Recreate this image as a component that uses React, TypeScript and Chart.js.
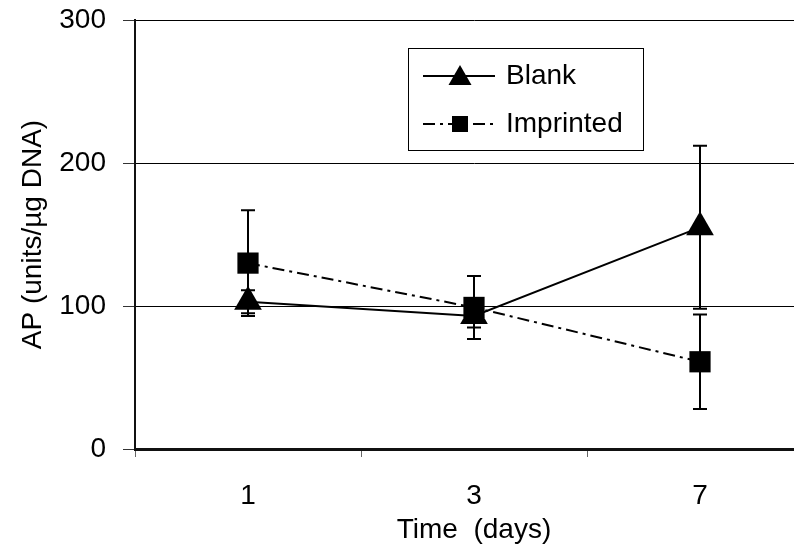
import React, { useEffect, useRef } from "react";
import { Chart, registerables } from "chart.js";

Chart.register(...registerables);

const categories = ["1", "3", "7"];
const blankValues = [103, 93, 155];
const blankErrors = [8, 8, 57];
const imprintedValues = [130, 99, 61];
const imprintedErrors = [37, 22, 33];
const yMin = 0;
const yMax = 300;
const yStep = 100;
const xTitle = "Time  (days)";
const yTitle = "AP (units/µg DNA)";

const FONT = "'Liberation Sans', Arial, sans-serif";

const errorBarPlugin = {
  id: "errorBars",
  afterDatasetsDraw(chart: any) {
    const { ctx } = chart;
    const yScale = chart.scales.y;
    chart.data.datasets.forEach((ds: any, i: number) => {
      const meta = chart.getDatasetMeta(i);
      const errs: number[] = ds.errors || [];
      meta.data.forEach((pt: any, j: number) => {
        const v = ds.data[j];
        const e = errs[j];
        if (e == null) return;
        const x = pt.x;
        const yt = yScale.getPixelForValue(v + e);
        const yb = yScale.getPixelForValue(v - e);
        ctx.save();
        ctx.strokeStyle = "#000";
        ctx.lineWidth = 2;
        ctx.setLineDash([]);
        ctx.beginPath();
        ctx.moveTo(x, yt);
        ctx.lineTo(x, yb);
        ctx.moveTo(x - 7, yt);
        ctx.lineTo(x + 7, yt);
        ctx.moveTo(x - 7, yb);
        ctx.lineTo(x + 7, yb);
        ctx.stroke();
        ctx.restore();
      });
    });
  },
};

const legendPlugin = {
  id: "boxLegend",
  afterDraw(chart: any) {
    const { ctx } = chart;
    const bx = 400, by = 40, bw = 235, bh = 102;
    ctx.save();
    ctx.fillStyle = "#fff";
    ctx.fillRect(bx, by, bw, bh);
    ctx.strokeStyle = "#000";
    ctx.lineWidth = 1;
    ctx.strokeRect(bx + 0.5, by + 0.5, bw, bh);
    const rows = [
      { ds: chart.data.datasets[1], y: 68 },
      { ds: chart.data.datasets[0], y: 116 },
    ];
    rows.forEach(({ ds, y }) => {
      ctx.strokeStyle = "#000";
      ctx.lineWidth = 2;
      ctx.setLineDash(ds.borderDash || []);
      ctx.beginPath();
      ctx.moveTo(415, y);
      ctx.lineTo(487, y);
      ctx.stroke();
      ctx.setLineDash([]);
      ctx.fillStyle = "#000";
      const cx = 452;
      if (ds.pointStyle === "triangle") {
        ctx.beginPath();
        ctx.moveTo(cx, y - 11);
        ctx.lineTo(cx + 11.5, y + 9);
        ctx.lineTo(cx - 11.5, y + 9);
        ctx.closePath();
        ctx.fill();
      } else {
        ctx.fillRect(cx - 8, y - 8, 16, 16);
      }
      ctx.font = `28px ${FONT}`;
      ctx.textBaseline = "middle";
      ctx.textAlign = "left";
      ctx.fillText(ds.label, 498, y);
    });
    ctx.restore();
  },
};

const zeroPad = (s: any) => {
  s.paddingTop = 0;
  s.paddingBottom = 0;
  s.paddingLeft = 0;
  s.paddingRight = 0;
};

export default function App() {
  const ref = useRef<HTMLCanvasElement | null>(null);

  useEffect(() => {
    if (!ref.current) return;
    const chart = new Chart(ref.current, {
      type: "line",
      data: {
        labels: categories,
        datasets: [
          {
            label: "Imprinted",
            data: imprintedValues,
            errors: imprintedErrors,
            borderColor: "#000",
            backgroundColor: "#000",
            borderWidth: 2,
            borderDash: [12, 5, 3, 5],
            pointStyle: "rect",
            pointRadius: 15,
            pointHoverRadius: 15,
            pointBackgroundColor: "#000",
            pointBorderColor: "#000",
            pointBorderWidth: 0,
            tension: 0,
            order: 0,
          } as any,
          {
            label: "Blank",
            data: blankValues,
            errors: blankErrors,
            borderColor: "#000",
            backgroundColor: "#000",
            borderWidth: 2,
            pointStyle: "triangle",
            pointRadius: 16,
            pointHoverRadius: 16,
            pointBackgroundColor: "#000",
            pointBorderColor: "#000",
            pointBorderWidth: 0,
            tension: 0,
            order: 1,
          } as any,
        ],
      },
      options: {
        responsive: false,
        animation: false,
        devicePixelRatio: 1,
        events: [],
        layout: { autoPadding: false, padding: { top: 12, left: 0, right: 0, bottom: 0 } },
        plugins: {
          legend: { display: false },
          tooltip: { enabled: false },
          title: { display: false },
        },
        scales: {
          x: {
            type: "category",
            offset: true,
            afterFit: (s: any) => {
              s.height = 99;
              zeroPad(s);
            },
            grid: {
              display: true,
              offset: true,
              drawOnChartArea: false,
              drawTicks: true,
              tickLength: 8,
              color: "#666",
              lineWidth: 1,
            },
            border: { display: true, color: "#111", width: 3 },
            ticks: {
              color: "#000",
              font: { family: FONT, size: 28 },
              padding: 22,
              maxRotation: 0,
            },
            title: {
              display: true,
              text: xTitle,
              color: "#000",
              font: { family: FONT, size: 28 },
              padding: { top: 0, bottom: 1 },
            },
          },
          y: {
            min: yMin,
            max: yMax,
            afterFit: (s: any) => {
              s.width = 127;
              zeroPad(s);
            },
            grid: {
              color: "#000",
              lineWidth: 1,
              tickLength: 12,
              tickColor: "#333",
              drawTicks: true,
            },
            border: { display: true, color: "#111", width: 2 },
            ticks: {
              stepSize: yStep,
              color: "#000",
              font: { family: FONT, size: 28 },
              padding: 17,
            },
            title: {
              display: true,
              text: yTitle,
              color: "#000",
              font: { family: FONT, size: 28 },
              padding: { top: 8, bottom: 0 },
            },
          },
        },
      } as any,
      plugins: [errorBarPlugin, legendPlugin],
    });
    return () => chart.destroy();
  }, []);

  return (
    <div style={{ width: 794, height: 540, overflow: "hidden", position: "relative" }}>
      <canvas ref={ref} width={805} height={540} style={{ display: "block", width: 805, height: 540 }} />
    </div>
  );
}
